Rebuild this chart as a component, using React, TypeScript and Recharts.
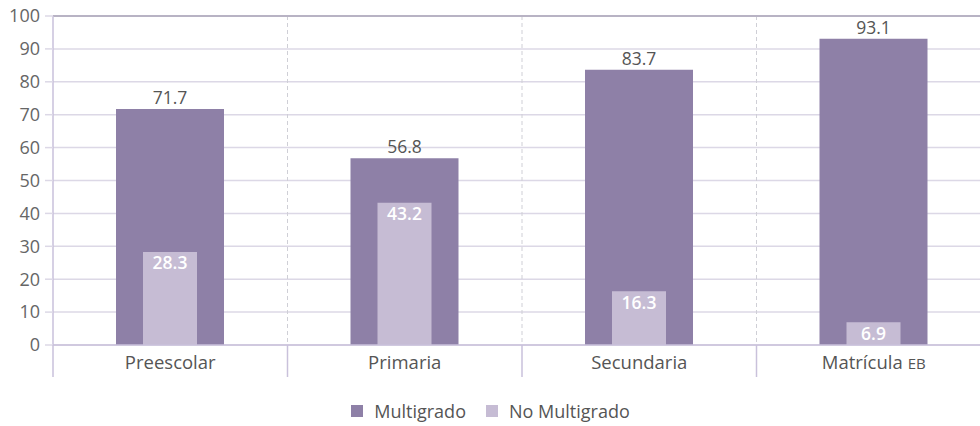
import { BarChart, Bar, XAxis, YAxis, CartesianGrid, Legend, LabelList, ReferenceLine } from "recharts";

const categories = ["Preescolar", "Primaria", "Secundaria", "Matrícula EB"];
const multigrado = [71.7, 56.8, 83.7, 93.1];
const noMultigrado = [28.3, 43.2, 16.3, 6.9];
const yTicks = [0, 10, 20, 30, 40, 50, 60, 70, 80, 90, 100];

const data = categories.map((name, i) => ({
  name,
  multigrado: multigrado[i],
  noMultigrado: noMultigrado[i],
}));

const FONT = "'Open Sans', 'Noto Sans', sans-serif";
const DARK = "#8e80a7";
const LIGHT = "#c6bcd4";
const LINE = "#c9c1db";
const GRID = "#dcd8e6";

const CategoryTick = (props: any) => {
  const { x, y, payload, index, visibleTicksCount, width } = props;
  const half = width / visibleTicksCount / 2;
  const label: string = payload.value;
  const small = label.endsWith(" EB");
  return (
    <g>
      <line x1={x - half} x2={x - half} y1={y} y2={y + 32} stroke={LINE} strokeWidth={1.5} />
      {index === visibleTicksCount - 1 && (
        <line x1={x + half} x2={x + half} y1={y} y2={y + 32} stroke={LINE} strokeWidth={1.5} />
      )}
      <text x={x} y={y + 24} textAnchor="middle" fill="#555" fontSize={18.5} fontFamily={FONT}>
        {small ? label.slice(0, -3) : label}
        {small && (
          <tspan fontSize={15} dx={5}>
            EB
          </tspan>
        )}
      </text>
    </g>
  );
};

const LegendContent = (props: any) => {
  const { payload } = props;
  return (
    <div
      style={{
        display: "flex",
        justifyContent: "center",
        gap: 20,
        fontFamily: FONT,
        fontSize: 18,
        color: "#555",
        lineHeight: "26px",
        paddingRight: 10,
      }}
    >
      {(payload || []).map((p: any) => (
        <span key={p.value} style={{ display: "flex", alignItems: "center" }}>
          <span style={{ width: 12, height: 12, background: p.color, marginRight: 11, display: "inline-block" }} />
          {p.value}
        </span>
      ))}
    </div>
  );
};

export default function App() {
  return (
    <div
      style={{
        position: "absolute",
        left: 0,
        top: 0,
        width: 980,
        height: 426,
        overflow: "hidden",
        background: "#fff",
      }}
    >
      <BarChart width={1000} height={426} data={data} margin={{ top: 16, right: 9, left: 0, bottom: 2 }}>
        <CartesianGrid horizontal vertical={false} stroke={GRID} strokeWidth={1.5} />
        <CartesianGrid
          horizontal={false}
          stroke="#cfcfd6"
          strokeDasharray="4 3"
          verticalCoordinatesGenerator={({ offset }: any) =>
            [1, 2, 3].map((i) => offset.left + (i * offset.width) / categories.length)
          }
        />
        <XAxis
          xAxisId="dark"
          dataKey="name"
          height={53}
          tickLine={false}
          tickSize={0}
          tickMargin={0}
          axisLine={{ stroke: LINE, strokeWidth: 1.5 }}
          tick={<CategoryTick />}
          interval={0}
        />
        <XAxis xAxisId="light" dataKey="name" hide />
        <YAxis
          width={53}
          domain={[0, 100]}
          ticks={yTicks}
          interval={0}
          tickSize={8}
          tickMargin={5}
          axisLine={{ stroke: LINE, strokeWidth: 1.5 }}
          tickLine={{ stroke: GRID, strokeWidth: 1.5 }}
          tick={{ fill: "#666", fontSize: 18, fontFamily: FONT }}
        />
        <ReferenceLine xAxisId="dark" y={100} stroke="#b8b3c4" strokeWidth={2} />
        <Legend verticalAlign="bottom" height={26} content={<LegendContent />} />
        <Bar xAxisId="dark" dataKey="multigrado" name="Multigrado" fill={DARK} barSize={108} isAnimationActive={false}>
          <LabelList dataKey="multigrado" position="top" offset={5} fill="#555" fontSize={17.5} fontFamily={FONT} />
        </Bar>
        <Bar xAxisId="light" dataKey="noMultigrado" name="No Multigrado" fill={LIGHT} barSize={54} isAnimationActive={false}>
          <LabelList
            dataKey="noMultigrado"
            position="insideTop"
            offset={5}
            fill="#fff"
            fontSize={17.5}
            fontWeight={600}
            fontFamily={FONT}
          />
        </Bar>
      </BarChart>
    </div>
  );
}
